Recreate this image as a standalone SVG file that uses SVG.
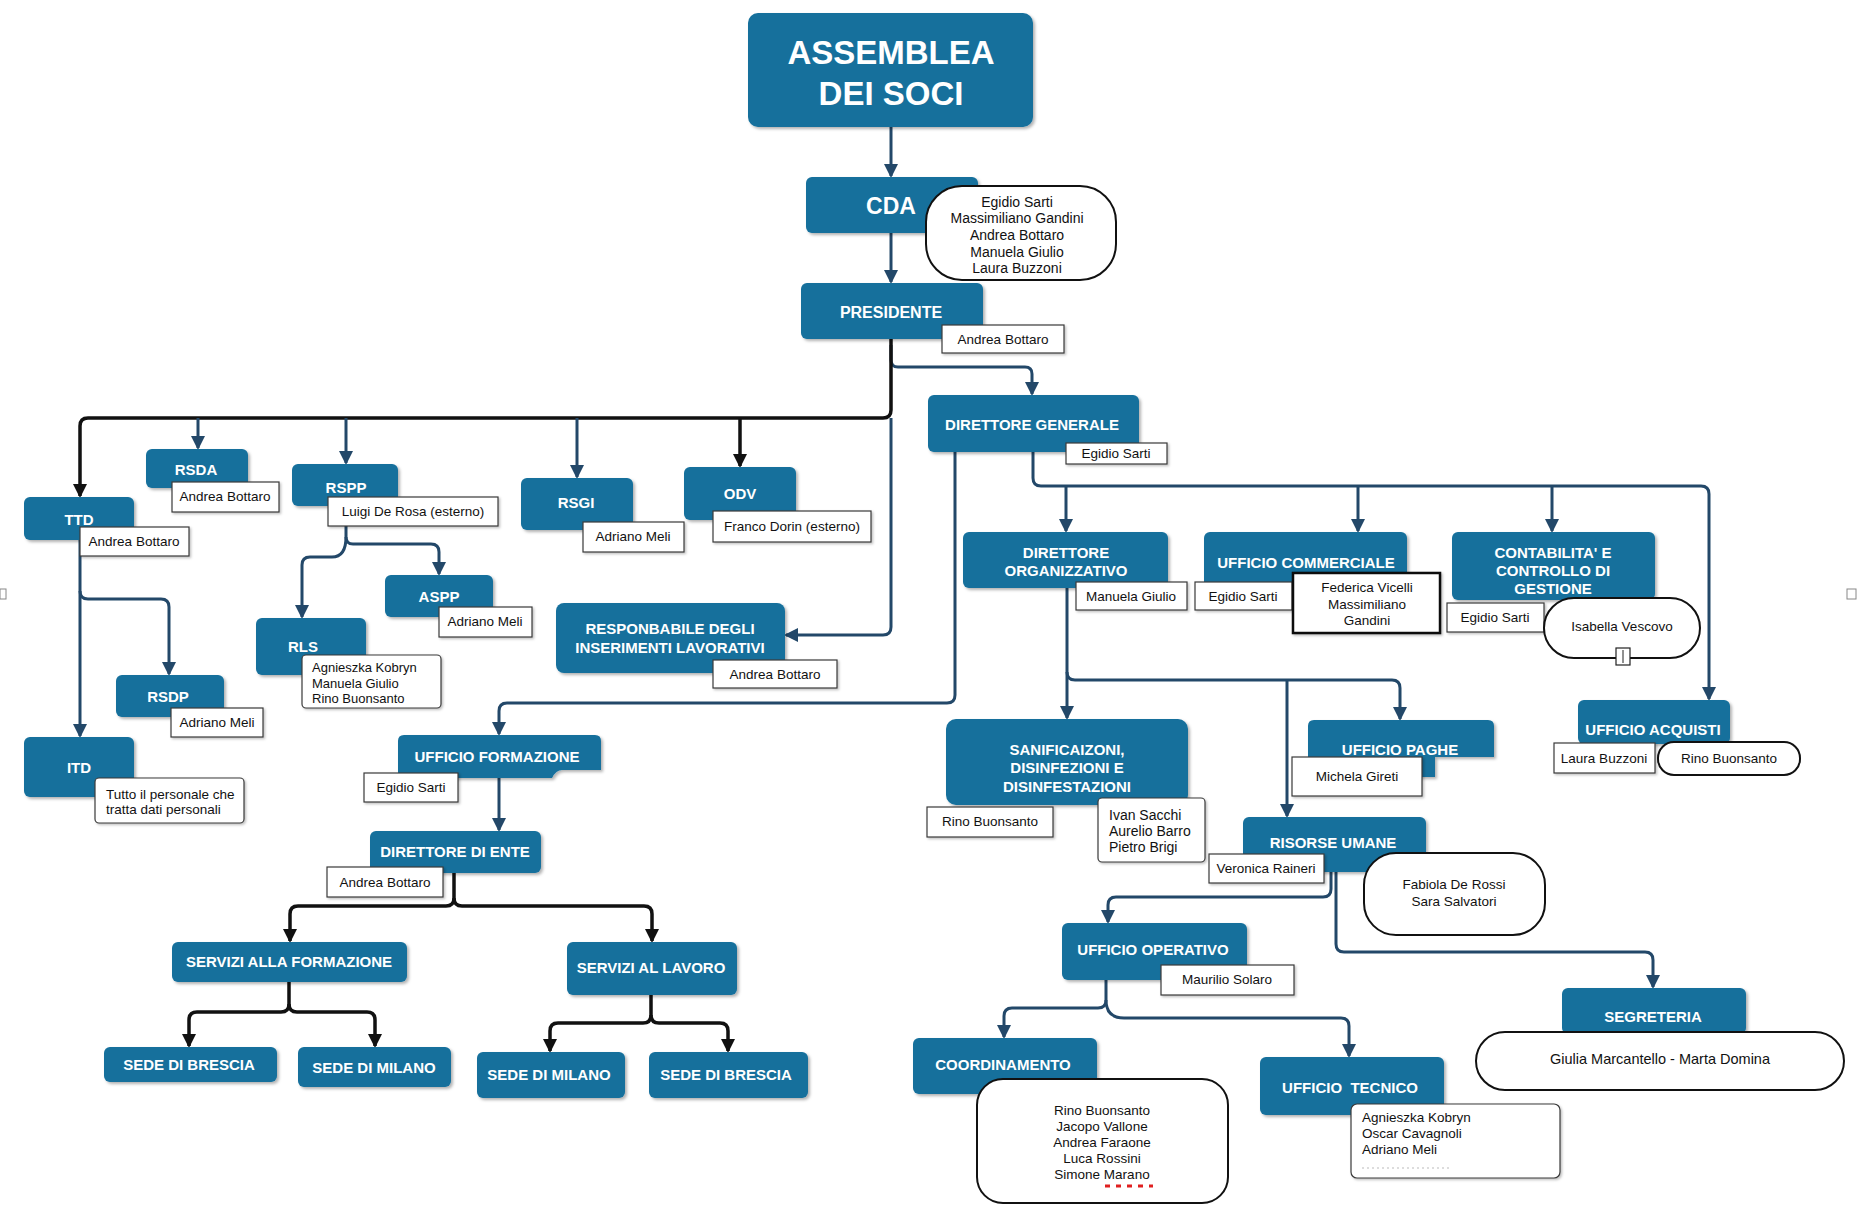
<svg xmlns="http://www.w3.org/2000/svg" width="1857" height="1205" viewBox="0 0 1857 1205">
<defs>
<style>
.b{fill:#146f9c;filter:url(#sh)}
.t{fill:#fff;font-family:"Liberation Sans",Arial,sans-serif;font-weight:bold;font-size:15px;text-anchor:middle}
.tag{fill:#fff;stroke:#3a3a3a;stroke-width:1.2;filter:url(#sh2)}
.nm{font-family:"Liberation Sans",Arial,sans-serif;font-size:13.5px;fill:#111;text-anchor:middle}
.nl{font-family:"Liberation Sans",Arial,sans-serif;font-size:13px;fill:#111}
.ov{fill:#fff;stroke:#111;stroke-width:2}
.cn{fill:none;stroke:#234869;stroke-width:3;marker-end:url(#an)}
.ck{fill:none;stroke:#111;stroke-width:3.5;marker-end:url(#ak)}
</style>
<filter id="sh" x="-10%" y="-10%" width="125%" height="130%"><feDropShadow dx="2" dy="2" stdDeviation="1.5" flood-color="#000" flood-opacity="0.3"/></filter>
<filter id="sh2" x="-10%" y="-10%" width="125%" height="130%"><feDropShadow dx="1.5" dy="1.5" stdDeviation="1" flood-color="#000" flood-opacity="0.25"/></filter>
<marker id="an" markerUnits="userSpaceOnUse" markerWidth="14" markerHeight="14" viewBox="0 0 14 14" refX="12" refY="7" orient="auto"><path d="M0,0 L14,7 L0,14 z" fill="#234869"/></marker>
<marker id="ak" markerUnits="userSpaceOnUse" markerWidth="14" markerHeight="14" viewBox="0 0 14 14" refX="12" refY="7" orient="auto"><path d="M0,0 L14,7 L0,14 z" fill="#111"/></marker>
</defs>
<rect width="1857" height="1205" fill="#fff"/>

<g id="connectors">
<path class="cn" d="M891,127 V176"/>
<path class="cn" d="M891,233 V282"/>
<path class="cn" d="M891,345 V360 Q891,367 898,367 H1025 Q1032,367 1032,374 V394"/>
<path class="ck" d="M891,339 V410 Q891,418 883,418 H88 Q80,418 80,426 V496"/>
<path class="ck" d="M740,418 V466"/>
<path class="cn" d="M198,418 V448"/>
<path class="cn" d="M346,418 V463"/>
<path class="cn" d="M577,418 V477"/>
<path class="cn" d="M891,418 V627 Q891,635 883,635 H786"/>
<path class="cn" d="M346,526 V537 Q346,544 353,544 H431 Q439,544 439,552 V574"/>
<path class="cn" d="M346,537 Q346,557 332,557 H310 Q302,557 302,565 V617"/>
<path class="cn" d="M80,540 V736"/>
<path class="cn" d="M80,591 Q80,599 88,599 H161 Q169,599 169,607 V674"/>
<path class="cn" d="M955,452 V695 Q955,703 947,703 H507 Q499,703 499,711 V734"/>
<path class="cn" d="M499,778 V830"/>
<path class="ck" d="M454,873 V898 Q454,906 446,906 H298 Q290,906 290,914 V941"/>
<path class="ck" d="M454,898 Q454,906 462,906 H644 Q652,906 652,914 V941"/>
<path class="ck" d="M289,982 V1004 Q289,1012 281,1012 H197 Q189,1012 189,1020 V1046"/>
<path class="ck" d="M289,1004 Q289,1012 297,1012 H367 Q375,1012 375,1020 V1046"/>
<path class="ck" d="M651,995 V1015 Q651,1023 643,1023 H558 Q550,1023 550,1031 V1051"/>
<path class="ck" d="M651,1015 Q651,1023 659,1023 H720 Q728,1023 728,1031 V1051"/>
<path class="cn" d="M1033,452 V478 Q1033,486 1041,486 H1701 Q1709,486 1709,494 V699"/>
<path class="cn" d="M1066,486 V531"/>
<path class="cn" d="M1358,486 V531"/>
<path class="cn" d="M1552,486 V531"/>
<path class="cn" d="M1067,588 V718"/>
<path class="cn" d="M1067,672 Q1067,680 1075,680 H1392 Q1400,680 1400,688 V719"/>
<path class="cn" d="M1287,680 V816"/>
<path class="cn" d="M1331,872 V889 Q1331,897 1323,897 H1116 Q1108,897 1108,905 V922"/>
<path class="cn" d="M1336,872 V944 Q1336,952 1344,952 H1645 Q1653,952 1653,960 V987"/>
<path class="cn" d="M1106,980 V1000 Q1106,1008 1098,1008 H1012 Q1004,1008 1004,1016 V1037"/>
<path class="cn" d="M1106,1000 Q1106,1018 1124,1018 H1341 Q1349,1018 1349,1026 V1056"/>
</g>

<g id="assemblea"><rect class="b" x="748" y="13" width="285" height="114" rx="10"/><text class="t" x="891" y="64" style="font-size:33px">ASSEMBLEA</text><text class="t" x="891" y="105" style="font-size:33px">DEI SOCI</text></g>

<g id="cda"><rect class="b" x="806" y="177" width="172" height="56" rx="6"/><text class="t" x="891" y="214" style="font-size:23px">CDA</text>
<rect class="ov" x="926" y="186" width="190" height="94" rx="36"/>
<text class="nm" x="1017" y="207" style="font-size:14px">Egidio Sarti</text><text class="nm" x="1017" y="223" style="font-size:14px">Massimiliano Gandini</text><text class="nm" x="1017" y="240" style="font-size:14px">Andrea Bottaro</text><text class="nm" x="1017" y="257" style="font-size:14px">Manuela Giulio</text><text class="nm" x="1017" y="273" style="font-size:14px">Laura Buzzoni</text></g>

<g id="presidente"><rect class="b" x="801" y="283" width="182" height="56" rx="6"/><text class="t" x="891" y="318" style="font-size:16px">PRESIDENTE</text>
<rect class="tag" x="942" y="325" width="122" height="28"/><text class="nm" x="1003" y="344">Andrea Bottaro</text></g>

<g id="dg"><rect class="b" x="928" y="395" width="211" height="57" rx="6"/><text class="t" x="1032" y="430">DIRETTORE GENERALE</text>
<rect class="tag" x="1066" y="443" width="101" height="21"/><text class="nm" x="1116" y="458">Egidio Sarti</text></g>

<g id="ttd"><rect class="b" x="24" y="497" width="110" height="43" rx="6"/><text class="t" x="79" y="525">TTD</text>
<rect class="tag" x="80" y="527" width="109" height="29"/><text class="nm" x="134" y="546">Andrea Bottaro</text></g>

<g id="rsda"><rect class="b" x="146" y="449" width="102" height="39" rx="6"/><text class="t" x="196" y="475">RSDA</text>
<rect class="tag" x="172" y="482" width="107" height="30"/><text class="nm" x="225" y="501">Andrea Bottaro</text></g>

<g id="rspp"><rect class="b" x="292" y="464" width="106" height="42" rx="6"/><text class="t" x="346" y="493">RSPP</text>
<rect class="tag" x="328" y="497" width="170" height="29"/><text class="nm" x="413" y="516">Luigi De Rosa (esterno)</text></g>

<g id="aspp"><rect class="b" x="385" y="575" width="108" height="42" rx="6"/><text class="t" x="439" y="602">ASPP</text>
<rect class="tag" x="439" y="607" width="93" height="30"/><text class="nm" x="485" y="626">Adriano Meli</text></g>

<g id="rls"><rect class="b" x="256" y="618" width="110" height="57" rx="6"/><text class="t" x="303" y="652">RLS</text>
<rect class="tag" x="302" y="655" width="139" height="53" rx="4"/><text class="nl" x="312" y="672">Agnieszka Kobryn</text><text class="nl" x="312" y="688">Manuela Giulio</text><text class="nl" x="312" y="703">Rino Buonsanto</text></g>

<g id="rsdp"><rect class="b" x="116" y="675" width="108" height="42" rx="6"/><text class="t" x="168" y="702">RSDP</text>
<rect class="tag" x="171" y="708" width="92" height="29"/><text class="nm" x="217" y="727">Adriano Meli</text></g>

<g id="itd"><rect class="b" x="24" y="737" width="110" height="60" rx="6"/><text class="t" x="79" y="773">ITD</text>
<rect class="tag" x="95" y="778" width="149" height="45" rx="4"/><text class="nl" x="106" y="799" style="font-size:13.5px">Tutto il personale che</text><text class="nl" x="106" y="814" style="font-size:13.5px">tratta dati personali</text></g>

<g id="rsgi"><rect class="b" x="521" y="478" width="112" height="52" rx="6"/><text class="t" x="576" y="508">RSGI</text>
<rect class="tag" x="583" y="522" width="101" height="30"/><text class="nm" x="633" y="541">Adriano Meli</text></g>

<g id="odv"><rect class="b" x="684" y="467" width="112" height="53" rx="6"/><text class="t" x="740" y="499">ODV</text>
<rect class="tag" x="713" y="511" width="158" height="31"/><text class="nm" x="792" y="531">Franco Dorin (esterno)</text></g>

<g id="responsabile"><rect class="b" x="556" y="603" width="229" height="70" rx="8"/><text class="t" x="670" y="634">RESPONBABILE DEGLI</text><text class="t" x="670" y="653">INSERIMENTI LAVORATIVI</text>
<rect class="tag" x="713" y="660" width="124" height="28"/><text class="nm" x="775" y="679">Andrea Bottaro</text></g>

<g id="ufficio-formazione"><path class="b" d="M404,735 H595 Q601,735 601,741 V770 H562 Q556,770 552,778 H404 Q398,778 398,772 V741 Q398,735 404,735 z"/><text class="t" x="497" y="762">UFFICIO FORMAZIONE</text>
<rect class="tag" x="364" y="773" width="94" height="29"/><text class="nm" x="411" y="792">Egidio Sarti</text></g>

<g id="direttore-ente"><rect class="b" x="370" y="831" width="171" height="42" rx="6"/><text class="t" x="455" y="857">DIRETTORE DI ENTE</text>
<rect class="tag" x="327" y="867" width="116" height="30"/><text class="nm" x="385" y="887">Andrea Bottaro</text></g>

<g id="servizi-formazione"><rect class="b" x="172" y="942" width="235" height="40" rx="6"/><text class="t" x="289" y="967">SERVIZI ALLA FORMAZIONE</text></g>
<g id="servizi-lavoro"><rect class="b" x="567" y="942" width="170" height="53" rx="6"/><text class="t" x="651" y="973">SERVIZI AL LAVORO</text></g>
<g id="sede-brescia-1"><rect class="b" x="104" y="1047" width="173" height="35" rx="6"/><text class="t" x="189" y="1070">SEDE DI BRESCIA</text></g>
<g id="sede-milano-1"><rect class="b" x="298" y="1047" width="153" height="40" rx="6"/><text class="t" x="374" y="1073">SEDE DI MILANO</text></g>
<g id="sede-milano-2"><rect class="b" x="477" y="1052" width="148" height="46" rx="6"/><text class="t" x="549" y="1080">SEDE DI MILANO</text></g>
<g id="sede-brescia-2"><rect class="b" x="649" y="1052" width="159" height="46" rx="6"/><text class="t" x="726" y="1080">SEDE DI BRESCIA</text></g>

<g id="direttore-organizzativo"><rect class="b" x="963" y="532" width="205" height="56" rx="6"/><text class="t" x="1066" y="558">DIRETTORE</text><text class="t" x="1066" y="576">ORGANIZZATIVO</text>
<rect class="tag" x="1076" y="582" width="111" height="28"/><text class="nm" x="1131" y="601">Manuela Giulio</text></g>

<g id="ufficio-commerciale"><rect class="b" x="1204" y="532" width="203" height="56" rx="6"/><text class="t" x="1306" y="568">UFFICIO COMMERCIALE</text>
<rect class="tag" x="1195" y="582" width="97" height="28"/><text class="nm" x="1243" y="601">Egidio Sarti</text>
<rect x="1293" y="573" width="147" height="60" fill="#fff" stroke="#111" stroke-width="2.5" filter="url(#sh2)"/><text class="nm" x="1367" y="592">Federica Vicelli</text><text class="nm" x="1367" y="609">Massimiliano</text><text class="nm" x="1367" y="625">Gandini</text></g>

<g id="contabilita"><rect class="b" x="1452" y="532" width="203" height="68" rx="6"/><text class="t" x="1553" y="558">CONTABILITA' E</text><text class="t" x="1553" y="576">CONTROLLO DI</text><text class="t" x="1553" y="594">GESTIONE</text>
<rect class="tag" x="1447" y="603" width="97" height="29"/><text class="nm" x="1495" y="622">Egidio Sarti</text>
<rect class="ov" x="1544" y="598" width="156" height="60" rx="30"/><text class="nm" x="1622" y="631">Isabella Vescovo</text>
<rect x="1616" y="648" width="14" height="17" fill="#fff" stroke="#222" stroke-width="1.2"/><line x1="1623" y1="650" x2="1623" y2="663" stroke="#222" stroke-width="1"/></g>

<g id="ufficio-acquisti"><rect class="b" x="1578" y="700" width="152" height="44" rx="6"/><text class="t" x="1653" y="735">UFFICIO ACQUISTI</text>
<rect class="tag" x="1554" y="743" width="101" height="30"/><text class="nm" x="1604" y="763">Laura Buzzoni</text>
<rect class="ov" x="1658" y="742" width="142" height="33" rx="16"/><text class="nm" x="1729" y="763">Rino Buonsanto</text></g>

<g id="sanificazioni"><rect class="b" x="946" y="719" width="242" height="86" rx="10"/><text class="t" x="1067" y="755">SANIFICAIZONI,</text><text class="t" x="1067" y="773">DISINFEZIONI E</text><text class="t" x="1067" y="792">DISINFESTAZIONI</text>
<rect class="tag" x="927" y="807" width="126" height="30"/><text class="nm" x="990" y="826">Rino Buonsanto</text>
<rect class="tag" x="1098" y="798" width="107" height="64" rx="4"/><text class="nl" x="1109" y="820" style="font-size:14px">Ivan Sacchi</text><text class="nl" x="1109" y="836" style="font-size:14px">Aurelio Barro</text><text class="nl" x="1109" y="852" style="font-size:14px">Pietro Brigi</text></g>

<g id="ufficio-paghe"><path class="b" d="M1314,720 H1488 Q1494,720 1494,726 V757 H1435 V777 H1308 V726 Q1308,720 1314,720 z"/><text class="t" x="1400" y="755">UFFICIO PAGHE</text>
<rect class="tag" x="1292" y="757" width="130" height="39"/><text class="nm" x="1357" y="781">Michela Gireti</text></g>

<g id="risorse-umane"><rect class="b" x="1243" y="817" width="183" height="55" rx="6"/><text class="t" x="1333" y="848">RISORSE UMANE</text>
<rect class="tag" x="1209" y="854" width="115" height="29"/><text class="nm" x="1266" y="873">Veronica Raineri</text>
<rect class="ov" x="1364" y="853" width="181" height="82" rx="32"/><text class="nm" x="1454" y="889">Fabiola De Rossi</text><text class="nm" x="1454" y="906">Sara Salvatori</text></g>

<g id="ufficio-operativo"><rect class="b" x="1062" y="923" width="185" height="57" rx="6"/><text class="t" x="1153" y="955">UFFICIO OPERATIVO</text>
<rect class="tag" x="1161" y="965" width="133" height="30"/><text class="nm" x="1227" y="984">Maurilio Solaro</text></g>

<g id="segreteria"><rect class="b" x="1562" y="988" width="184" height="46" rx="6"/><text class="t" x="1653" y="1022">SEGRETERIA</text>
<rect class="ov" x="1476" y="1032" width="368" height="58" rx="29"/><text class="nm" x="1660" y="1064" style="font-size:14.5px">Giulia Marcantello - Marta Domina</text></g>

<g id="coordinamento"><rect class="b" x="913" y="1038" width="184" height="56" rx="6"/><text class="t" x="1003" y="1070">COORDINAMENTO</text>
<rect class="ov" x="977" y="1079" width="251" height="124" rx="26"/>
<text class="nm" x="1102" y="1115">Rino Buonsanto</text><text class="nm" x="1102" y="1131">Jacopo Vallone</text><text class="nm" x="1102" y="1147">Andrea Faraone</text><text class="nm" x="1102" y="1163">Luca Rossini</text><text class="nm" x="1102" y="1179">Simone Marano</text>
<line x1="1105" y1="1186" x2="1153" y2="1186" stroke="#e02020" stroke-width="3" stroke-dasharray="5,6"/></g>

<g id="ufficio-tecnico"><rect class="b" x="1260" y="1057" width="184" height="58" rx="6"/><text class="t" x="1350" y="1093" xml:space="preserve">UFFICIO  TECNICO</text>
<rect class="tag" x="1351" y="1104" width="209" height="74" rx="6"/><text class="nl" x="1362" y="1122" style="font-size:13.5px">Agnieszka Kobryn</text><text class="nl" x="1362" y="1138" style="font-size:13.5px">Oscar Cavagnoli</text><text class="nl" x="1362" y="1154" style="font-size:13.5px">Adriano Meli</text>
<line x1="1362" y1="1168" x2="1450" y2="1168" stroke="#bbb" stroke-width="1" stroke-dasharray="2,3"/></g>

<g id="page-marks"><rect x="0" y="589" width="6" height="10" fill="#fff" stroke="#888" stroke-width="1"/><rect x="1847" y="589" width="9" height="10" fill="#fff" stroke="#888" stroke-width="1"/></g>
</svg>
